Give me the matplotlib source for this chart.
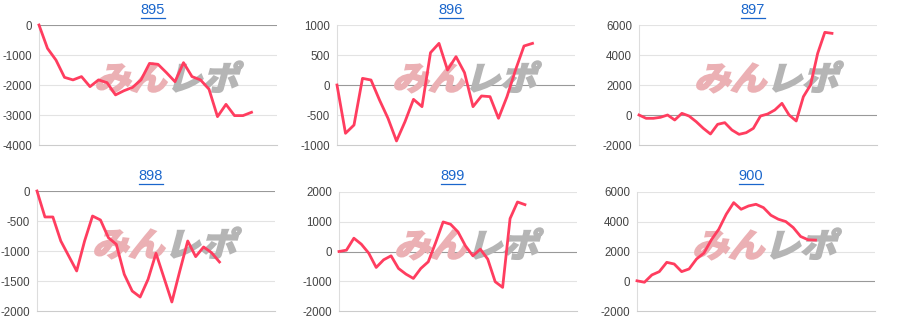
import matplotlib
matplotlib.use("Agg")
import matplotlib.pyplot as plt
from matplotlib.textpath import TextPath
from matplotlib.patches import PathPatch
from matplotlib.font_manager import FontProperties
from matplotlib.transforms import Affine2D
from matplotlib.lines import Line2D

plt.rcParams['font.family'] = ['Liberation Sans', 'DejaVu Sans']
plt.rcParams['axes.unicode_minus'] = False

titles = ["895", "896", "897", "898", "899", "900"]

s895 = [0, -780, -1170, -1745, -1830, -1720, -2055, -1830, -1920, -2330, -2190, -2080,
        -1830, -1280, -1310, -1590, -1890, -1255, -1720, -1830, -2140, -3055, -2645,
        -3020, -3020, -2910]
s896 = [0, -805, -667, 111, 83, -250, -555, -933, -611, -239, -361, 539, 694, 250, 472,
        206, -361, -183, -194, -555, -194, 250, 650, 694]
s897 = [0, -222, -222, -155, 0, -333, 111, -67, -444, -889, -1267, -622, -511, -1000,
        -1289, -1178, -889, -67, 67, 333, 778, 0, -400, 1222, 2000, 4111, 5511, 5444]
s898 = [0, -433, -433, -833, -1083, -1333, -833, -417, -483, -778, -889, -1389, -1667,
        -1767, -1472, -1039, -1444, -1850, -1333, -833, -1094, -933, -1028, -1183]
s899 = [0, 45, 447, 246, -56, -536, -279, -145, -570, -760, -905, -570, -346, 302, 994,
        916, 659, 190, -145, 78, -257, -1016, -1206, 1106, 1664, 1575]
s900 = [30, -67, 424, 647, 1271, 1160, 647, 825, 1494, 1896, 2788, 3501, 4505, 5285,
        4839, 5062, 5174, 4950, 4438, 4170, 4014, 3613, 3011, 2788, 2765]
series = [s895, s896, s897, s898, s899, s900]

yticks = [
    [-4000, -3000, -2000, -1000, 0],
    [-1000, -500, 0, 500, 1000],
    [-2000, 0, 2000, 4000, 6000],
    [-2000, -1500, -1000, -500, 0],
    [-2000, -1000, 0, 1000, 2000],
    [-2000, 0, 2000, 4000, 6000],
]

# layout (pixels): left, right, top, bottom, x-range, title center x, title y
W, H = 900, 332
layout = [
    (39, 277, 25, 145, 28.0, 153, 10),
    (337, 575, 25, 145, 28.0, 451, 10),
    (639, 877, 25, 145, 33.3, 753, 10),
    (37, 275, 191, 311, 30.0, 151, 176),
    (339, 577, 192, 311, 32.0, 453, 176),
    (637, 875, 192, 311, 32.0, 751, 176),
]

fig = plt.figure(figsize=(W / 100, H / 100), dpi=100)
fig.patch.set_facecolor('white')

line_color = '#ff3d5f'
wm_font = FontProperties(family='Noto Sans CJK JP', weight='bold')

title_texts = []
for i, (l, r, t, b, xr, tcx, ty) in enumerate(layout):
    ax = fig.add_axes([l / W, 1 - b / H, (r - l) / W, (b - t) / H])
    ys = series[i]
    xs = list(range(len(ys)))
    ax.set_xlim(0, xr)
    ax.set_ylim(yticks[i][0], yticks[i][-1])
    ax.set_yticks(yticks[i])
    ax.set_yticklabels([str(v) for v in yticks[i]])
    ax.set_xticks([])
    for sp in ['top', 'right']:
        ax.spines[sp].set_visible(False)
    ax.spines['left'].set_color('#dddddd')
    ax.spines['left'].set_linewidth(0.8)
    ax.spines['bottom'].set_color('#cccccc')
    ax.spines['bottom'].set_linewidth(0.8)
    ax.tick_params(axis='y', length=0, pad=5, labelsize=8.3, labelcolor='#444444')
    for v in yticks[i]:
        if v == 0:
            ax.axhline(v, color='#999999', lw=0.8, zorder=1.2)
        elif v != yticks[i][0]:
            ax.axhline(v, color='#e3e3e3', lw=0.8, zorder=0.5)

    # watermark
    wx0 = l + 55
    wy0 = H - (t + 65)
    p1 = TextPath((0, 0), "みん", size=1, prop=wm_font)
    p2 = TextPath((0, 0), "レポ", size=1, prop=wm_font)
    tr1 = Affine2D().skew_deg(14, 0).scale(36, 33).translate(wx0, wy0).scale(1 / 100) + fig.dpi_scale_trans
    tr2 = Affine2D().skew_deg(14, 0).scale(36, 33).translate(wx0 + 72, wy0).scale(1 / 100) + fig.dpi_scale_trans
    ax.add_patch(PathPatch(p1, transform=tr1, facecolor='#ebb0b4', edgecolor='#ebb0b4', lw=1.6, zorder=1.4, clip_on=False))
    ax.add_patch(PathPatch(p2, transform=tr2, facecolor='#b5b5b5', edgecolor='#b5b5b5', lw=1.6, zorder=1.4, clip_on=False))

    ax.plot(xs, ys, color=line_color, lw=2.0, solid_joinstyle='round', zorder=3, clip_on=False)

    tt = fig.text(tcx / W, 1 - ty / H, titles[i], ha='center', va='center', fontsize=10.5, color='#1a66cc')
    title_texts.append(tt)

fig.canvas.draw()
renderer = fig.canvas.get_renderer()
for tt in title_texts:
    bb = tt.get_window_extent(renderer)
    yl = bb.y0 - 0.5
    fig.add_artist(Line2D([bb.x0 / W, bb.x1 / W], [yl / H, yl / H], transform=fig.transFigure, color='#1a66cc', lw=0.9))

fig.savefig('out.png', dpi=100, facecolor='white')
